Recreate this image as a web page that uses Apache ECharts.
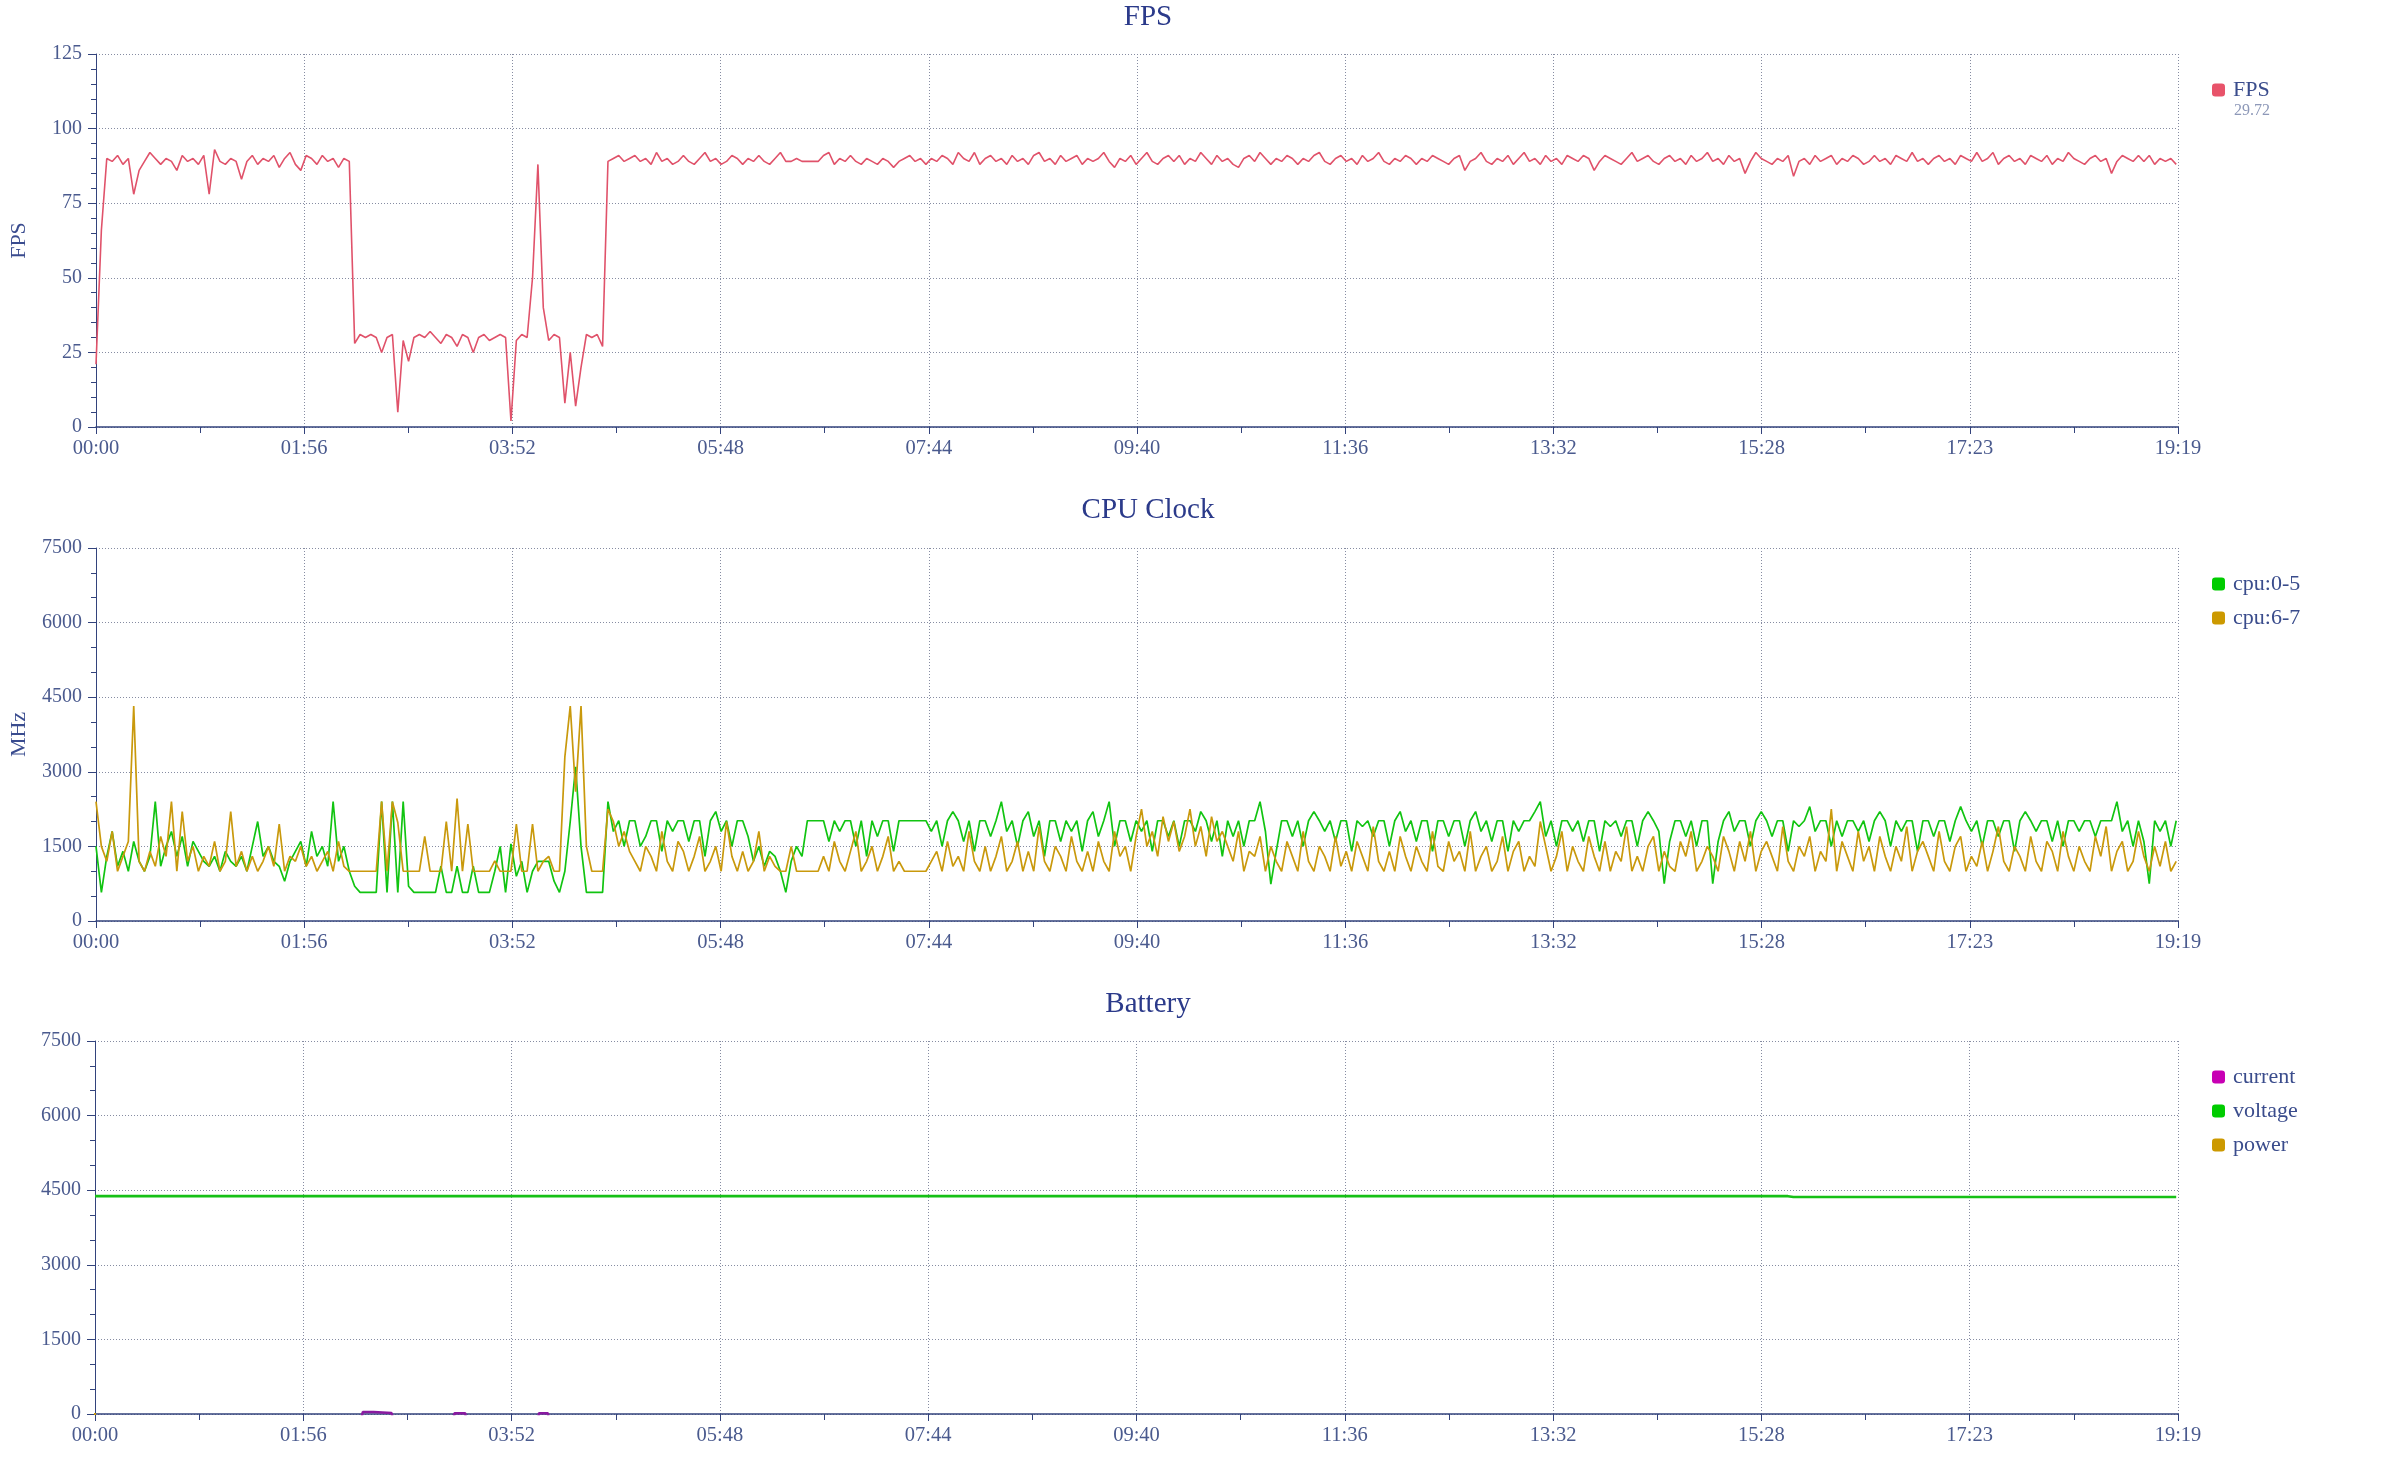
<!DOCTYPE html>
<html>
<head>
<meta charset="utf-8">
<script src="https://cdn.jsdelivr.net/npm/echarts@6/dist/echarts.min.js"></script>
<style>
html,body{margin:0;padding:0;background:#fff;}
#chart{width:2400px;height:1480px;}
</style>
</head>
<body>
<div id="chart"></div>
<script>
// ---------------- DATA ----------------
const SAMPLE_STEP_SEC = 3;          // one sample every 3 seconds
const TOTAL_SEC = 1159;             // 19:19
const xTickLabels = ['00:00','01:56','03:52','05:48','07:44','09:40','11:36','13:32','15:28','17:23','19:19'];

const fpsValues = [
21,66,90,89,91,88,90,78,86,89,
92,90,88,90,89,86,91,89,90,88,
91,78,93,89,88,90,89,83,89,91,
88,90,89,91,87,90,92,88,86,91,
90,88,91,89,90,87,90,89,28,31,
30,31,30,25,30,31,5,29,22,30,
31,30,32,30,28,31,30,27,31,30,
25,30,31,29,30,31,30,2,29,31,
30,50,88,40,29,31,30,8,25,7,
20,31,30,31,27,89,90,91,89,90,
91,89,90,88,92,89,90,88,89,91,
89,88,90,92,89,90,88,89,91,90,
88,90,89,91,89,88,90,92,89,89,
90,89,89,89,89,91,92,88,90,89,
91,89,88,90,89,88,90,89,87,89,
90,91,89,90,88,90,89,91,90,88,
92,90,89,92,88,90,91,89,90,88,
91,89,90,88,91,92,89,90,88,91,
89,90,91,88,90,89,90,92,89,87,
90,89,91,88,90,92,89,88,90,91,
89,91,88,90,89,92,90,88,91,89,
90,88,87,90,91,89,92,90,88,90,
89,91,90,88,90,89,91,92,89,88,
90,91,89,90,88,91,89,90,92,89,
88,90,89,91,90,88,90,89,91,90,
89,88,90,91,86,89,90,92,89,88,
90,89,91,88,90,92,89,90,88,91,
89,90,88,91,90,89,91,90,86,89,
91,90,89,88,90,92,89,90,91,89,
88,90,91,89,90,88,91,89,90,92,
89,90,88,91,89,90,85,89,92,90,
89,88,90,89,91,84,89,90,88,91,
89,90,91,88,90,89,91,90,88,89,
91,89,90,88,91,90,89,92,89,90,
88,90,91,89,90,88,91,90,89,92,
89,90,92,88,90,91,89,90,88,91,
90,89,91,88,90,89,92,90,89,88,
90,91,89,90,85,89,91,90,89,91,
89,91,88,90,89,90,88
];

const cpu05Values = [
1500,576,1300,1800,1100,1400,1000,1600,1200,1000,
1300,2400,1100,1500,1800,1300,1700,1100,1600,1400,
1200,1100,1300,1000,1400,1200,1100,1300,1000,1500,
2000,1300,1500,1200,1100,800,1200,1400,1600,1100,
1800,1300,1500,1100,2400,1200,1500,1000,700,576,
576,576,576,2400,576,2400,576,2400,700,576,
576,576,576,576,1100,576,576,1100,576,576,
1100,576,576,576,1000,1500,576,1550,900,1200,
576,1000,1200,1200,1200,800,576,1000,2000,3100,
1500,576,576,576,576,2400,1800,2016,1500,2016,
2016,1500,1700,2016,2016,1400,2016,1800,2016,2016,
1600,2016,2016,1300,2016,2200,1800,2016,1500,2016,
2016,1700,1200,1500,1100,1400,1300,1000,576,1200,
1500,1300,2016,2016,2016,2016,1600,2016,1800,2016,
2016,1500,2016,1300,2016,1700,2016,2016,1400,2016,
2016,2016,2016,2016,2016,1800,2016,1500,2016,2200,
2016,1600,2016,1400,2016,2016,1700,2016,2400,1800,
2016,1500,2016,2200,1700,2016,1300,2016,2016,1600,
2016,1800,2016,1400,2016,2200,1700,2016,2400,1500,
2016,2016,1600,2016,1800,2016,1400,2016,2016,1700,
2016,1500,2016,2016,1800,2200,2016,1600,2016,1300,
2016,1700,2016,1500,2016,2016,2400,1800,740,1400,
2016,2016,1700,2016,1500,2016,2200,2016,1800,2016,
1600,2016,2016,1400,2016,1900,2016,1700,2016,2016,
1500,2016,2200,1800,2016,1600,2016,2016,1400,2016,
2016,1700,2016,2016,1500,2016,2200,1800,2016,1600,
2016,2016,1400,2016,1800,2016,2016,2200,2400,1700,
2016,1500,2016,2016,1800,2016,1600,2016,2016,1400,
2016,1900,2016,1700,2016,2016,1500,2016,2200,2016,
1800,750,1600,2016,2016,1700,2016,1500,2016,2016,
750,1600,2016,2200,1800,2016,2016,1500,2016,2200,
2016,1700,2016,2016,1400,2016,1900,2016,2300,1800,
2016,2016,1500,2016,1700,2016,2016,1800,2016,1600,
2016,2200,2016,1500,2016,1800,2016,2016,1400,2016,
2016,1700,2016,2016,1600,2016,2300,2016,1800,2016,
1500,2016,2016,1700,2016,2016,1400,2016,2200,2016,
1800,2016,2016,1600,2016,1500,2016,2016,1800,2016,
2016,1700,2016,2016,2016,2400,1800,2016,1500,2016,
1600,750,2016,1800,2016,1500,2016
];

const cpu67Values = [
2400,1500,1200,1800,1000,1300,1600,4320,1200,1000,
1400,1100,1700,1300,2400,1000,2200,1200,1500,1000,
1300,1100,1600,1000,1200,2200,1100,1400,1000,1300,
1000,1200,1500,1100,1950,1000,1300,1200,1500,1100,
1300,1000,1200,1400,1000,1600,1100,1000,1000,1000,
1000,1000,1000,2400,1000,2400,1980,1000,1000,1000,
1000,1700,1000,1000,1000,2000,1000,2460,1000,1950,
1000,1000,1000,1000,1210,1000,1000,1000,1950,1000,
1000,1950,1000,1200,1300,1000,1000,3300,4320,2600,
4320,1500,1000,1000,1000,2250,2000,1500,1800,1400,
1200,1000,1500,1300,1000,1800,1200,1000,1600,1400,
1000,1300,1700,1000,1200,1500,1000,2000,1300,1000,
1400,1000,1200,1800,1000,1300,1100,1000,1000,1500,
1000,1000,1000,1000,1000,1300,1000,1600,1200,1000,
1400,1800,1000,1200,1500,1000,1300,1700,1000,1200,
1000,1000,1000,1000,1000,1200,1400,1000,1600,1100,
1300,1000,1800,1200,1000,1500,1000,1300,1700,1000,
1200,1600,1000,1400,1000,1900,1200,1000,1500,1300,
1000,1700,1200,1000,1400,1000,1600,1200,1000,1800,
1300,1500,1000,1700,2250,1500,1800,1300,2100,1600,
2000,1400,1700,2250,1500,1900,1300,2100,1600,1800,
1500,1200,1800,1000,1400,1300,1700,1000,1500,1200,
1000,1600,1300,1000,1800,1200,1000,1500,1300,1000,
1700,1100,1400,1000,1600,1300,1000,1900,1200,1000,
1400,1000,1700,1300,1000,1500,1200,1000,1800,1100,
1000,1600,1200,1400,1000,1800,1000,1300,1500,1000,
1200,1700,1000,1400,1600,1000,1300,1100,2000,1500,
1000,1300,1800,1000,1500,1200,1000,1700,1300,1000,
1600,1000,1400,1200,1900,1000,1300,1000,1500,1700,
1000,1400,1100,1000,1600,1300,1800,1000,1200,1500,
1300,1000,1700,1400,1000,1600,1200,1800,1000,1400,
1600,1300,1000,1900,1200,1000,1500,1300,1700,1000,
1400,1200,2250,1000,1600,1300,1000,1800,1200,1500,
1000,1700,1300,1000,1500,1200,1900,1000,1400,1600,
1300,1000,1800,1200,1000,1500,1700,1000,1300,1100,
1600,1000,1400,1900,1200,1000,1500,1300,1000,1700,
1200,1000,1600,1400,1000,1800,1300,1000,1500,1200,
1000,1700,1300,1900,1000,1400,1600,1000,1200,1800,
1300,1000,1500,1100,1600,1000,1200
];

// Battery (sparse readings: time in seconds, value)
const voltageTimes  = [0, 942, 945, 1158];
const voltageValues = [4380, 4380, 4362, 4362];
const currentTimes  = [0, 147, 149, 155, 156, 165, 167, 199, 200, 206, 207, 246, 247, 252, 253, 1158];
const currentValues = [-300, -300, 40, 40, 20, 20, -300, -300, 15, 15, -300, -300, 15, 15, -300, -300];
const powerTimes    = [0, 2, 1158];
const powerValues   = [20, -1300, -1300];

const fpsAverageText = '29.72';

// ---------------- CHART ----------------
const FONT = "'Liberation Serif', 'DejaVu Serif', serif";
const AXIS_COLOR = '#33437c';
const LABEL_COLOR = '#4a5a8e';
const TITLE_COLOR = '#2b3a8a';
const SPLIT = {type: [1, 2], color: '#868ca2', width: 1};
const X_INTERVAL = TOTAL_SEC / 10;

function pairs(times, vals) { return vals.map((v, i) => [times[i], v]); }
const sampleTimes = fpsValues.map((_, i) => i * SAMPLE_STEP_SEC);

const gridTops = [54, 548, 1041];
const grids = gridTops.map(t => ({left: 95, right: 222, top: t, height: 373, containLabel: false}));

const xAxes = gridTops.map((_, i) => ({
  type: 'value', gridIndex: i, min: 0, max: TOTAL_SEC, interval: X_INTERVAL,
  axisLine: {show: true, onZero: false, lineStyle: {color: AXIS_COLOR, width: 1.5}},
  axisTick: {show: true, length: 7, lineStyle: {color: AXIS_COLOR}},
  minorTick: {show: true, splitNumber: 2, length: 6, lineStyle: {color: AXIS_COLOR}},
  axisLabel: {
    color: LABEL_COLOR, fontSize: 20.5, fontFamily: FONT, margin: 11,
    showMinLabel: true, showMaxLabel: true,
    formatter: v => xTickLabels[Math.round(v / X_INTERVAL)] || ''
  },
  splitLine: {show: true, lineStyle: SPLIT}
}));

function yAxis(i, max, interval, minorSplit, name) {
  return {
    type: 'value', gridIndex: i, min: 0, max: max, interval: interval,
    name: name, nameLocation: 'middle', nameGap: 66,
    nameTextStyle: {color: '#3a4c8f', fontSize: 22, fontFamily: FONT},
    axisLine: {show: true, lineStyle: {color: AXIS_COLOR, width: 1}},
    axisTick: {show: true, length: 8, lineStyle: {color: AXIS_COLOR}},
    minorTick: {show: true, splitNumber: minorSplit, length: 5, lineStyle: {color: AXIS_COLOR}},
    axisLabel: {color: LABEL_COLOR, fontSize: 20, fontFamily: FONT, margin: 14,
                formatter: v => String(v)},
    splitLine: {show: true, lineStyle: SPLIT}
  };
}

const legendBase = {
  orient: 'vertical', left: 2212, padding: 0, itemWidth: 13, itemHeight: 13,
  icon: 'roundRect', itemGap: 12,
  textStyle: {color: '#3a4c8c', fontSize: 22, fontFamily: FONT, lineHeight: 21, padding: [0, 0, 0, 3]}
};

const titleBase = {left: 1148, textAlign: 'center', padding: 0,
  textStyle: {color: TITLE_COLOR, fontSize: 29, fontWeight: 'normal', fontFamily: FONT}};

const option = {
  animation: false,
  backgroundColor: '#ffffff',
  title: [
    Object.assign({}, titleBase, {text: 'FPS', top: 3}),
    Object.assign({}, titleBase, {text: 'CPU Clock', top: 496}),
    Object.assign({}, titleBase, {text: 'Battery', top: 990}),
    {text: fpsAverageText, left: 2234, top: 103, padding: 0,
     textStyle: {color: '#8d98b8', fontSize: 16, fontWeight: 'normal', fontFamily: FONT}}
  ],
  legend: [
    Object.assign({}, legendBase, {top: 79, data: ['FPS']}),
    Object.assign({}, legendBase, {top: 573, data: ['cpu:0-5', 'cpu:6-7']}),
    Object.assign({}, legendBase, {top: 1066, data: ['current', 'voltage', 'power']})
  ],
  grid: grids,
  xAxis: xAxes,
  yAxis: [
    yAxis(0, 125, 25, 5, 'FPS'),
    yAxis(1, 7500, 1500, 3, 'MHz'),
    yAxis(2, 7500, 1500, 3, '')
  ],
  series: [
    {name: 'FPS', type: 'line', xAxisIndex: 0, yAxisIndex: 0, showSymbol: false,
     color: '#e8536a', lineStyle: {width: 1.6, color: '#e0526a'},
     data: pairs(sampleTimes, fpsValues)},
    {name: 'cpu:0-5', type: 'line', xAxisIndex: 1, yAxisIndex: 1, showSymbol: false,
     color: '#00cc00', lineStyle: {width: 1.7, color: '#11c411'},
     data: pairs(sampleTimes, cpu05Values)},
    {name: 'cpu:6-7', type: 'line', xAxisIndex: 1, yAxisIndex: 1, showSymbol: false,
     color: '#cc9900', lineStyle: {width: 1.7, color: '#c9990c'},
     data: pairs(sampleTimes, cpu67Values)},
    {name: 'current', type: 'line', xAxisIndex: 2, yAxisIndex: 2, showSymbol: false, clip: true,
     color: '#c800b4', lineStyle: {width: 2.5, color: '#8a1aa0'},
     data: pairs(currentTimes, currentValues)},
    {name: 'voltage', type: 'line', xAxisIndex: 2, yAxisIndex: 2, showSymbol: false, clip: true,
     color: '#00cc00', lineStyle: {width: 2.6, color: '#16c016'},
     data: pairs(voltageTimes, voltageValues)},
    {name: 'power', type: 'line', xAxisIndex: 2, yAxisIndex: 2, showSymbol: false, clip: true,
     color: '#cc9900', lineStyle: {width: 2, color: '#c9990c'},
     data: pairs(powerTimes, powerValues)}
  ]
};

const chart = echarts.init(document.getElementById('chart'), null, {renderer: 'canvas'});
chart.setOption(option);
</script>
</body>
</html>
